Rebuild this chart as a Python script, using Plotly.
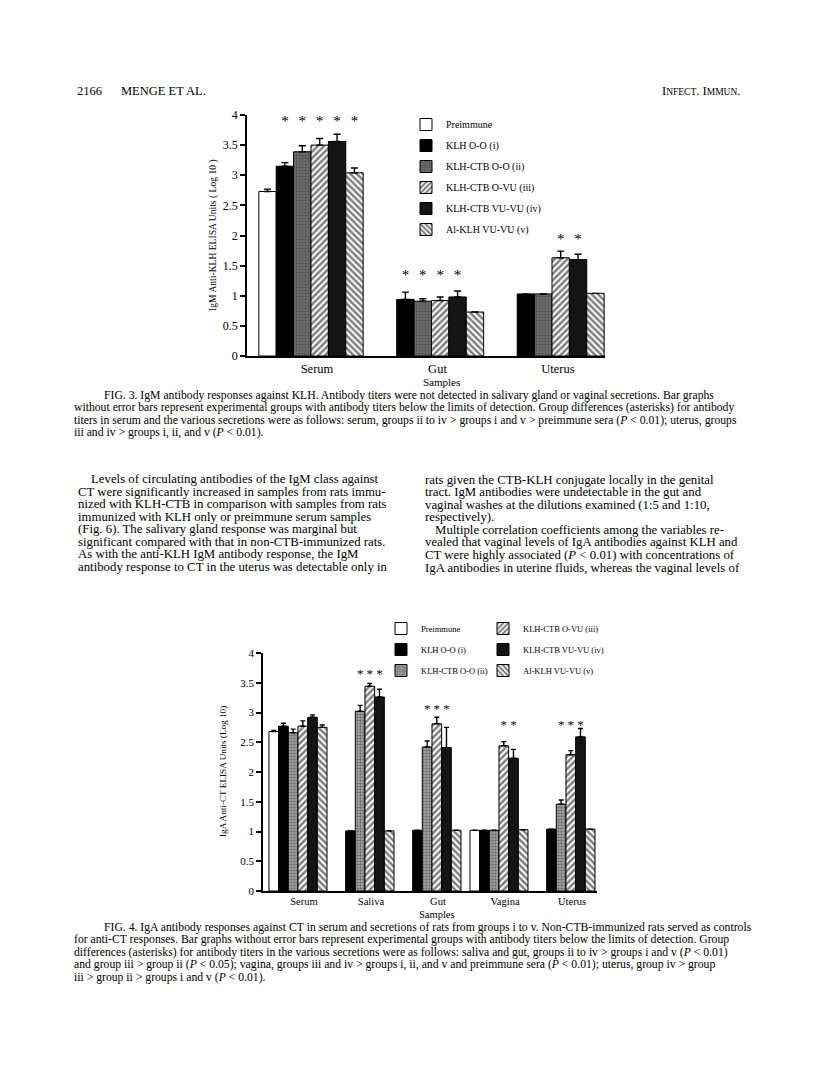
import plotly.graph_objects as go

FONT = "Liberation Serif, Times New Roman, serif"
W, H = 816, 1080
OFF = 8  # the page body margin shifts the figure; compensate so positions match the scan

SERIES = ["Preimmune", "KLH O-O (i)", "KLH-CTB O-O (ii)",
          "KLH-CTB O-VU (iii)", "KLH-CTB VU-VU (iv)", "Al-KLH VU-VU (v)"]

# ---------------- Fig. 3 data (IgM anti-KLH) ----------------
F3_SAMPLES = ["Serum", "Gut", "Uterus"]
F3_PRE = [2.73, None, None]
F3_I = [3.15, 0.94, 1.03]
F3_II = [3.39, 0.91, 1.03]
F3_III = [3.50, 0.92, 1.63]
F3_IV = [3.56, 0.98, 1.60]
F3_V = [3.04, 0.73, 1.04]
F3_PRE_ERR = [0.04, 0, 0]
F3_I_ERR = [0.06, 0.12, 0]
F3_II_ERR = [0.10, 0.04, 0]
F3_III_ERR = [0.11, 0.06, 0.11]
F3_IV_ERR = [0.12, 0.10, 0.09]
F3_V_ERR = [0.08, 0, 0]
F3_STAR_LEVEL = [3.93, 1.38, 1.98]
F3_STARRED = [[1, 2, 3, 4, 5], [1, 2, 3, 4], [3, 4]]

# ---------------- Fig. 4 data (IgA anti-CT) ----------------
F4_SAMPLES = ["Serum", "Saliva", "Gut", "Vagina", "Uterus"]
F4_PRE = [2.68, None, None, 1.02, None]
F4_I = [2.77, 1.01, 1.02, 1.02, 1.04]
F4_II = [2.66, 3.02, 2.42, 1.02, 1.46]
F4_III = [2.77, 3.44, 2.81, 2.44, 2.29]
F4_IV = [2.92, 3.26, 2.41, 2.23, 2.59]
F4_V = [2.75, 1.01, 1.02, 1.03, 1.04]
F4_PRE_ERR = [0.02, 0, 0, 0, 0]
F4_I_ERR = [0.05, 0, 0, 0, 0]
F4_II_ERR = [0.06, 0.10, 0.10, 0, 0.07]
F4_III_ERR = [0.09, 0.05, 0.11, 0.07, 0.07]
F4_IV_ERR = [0.04, 0.13, 0.34, 0.15, 0.14]
F4_V_ERR = [0.04, 0, 0, 0, 0]
F4_STAR_LEVEL = [None, 3.68, 3.09, 2.83, 2.83]
F4_STARRED = [[], [2, 3, 4], [2, 3, 4], [3, 4], [2, 3, 4]]

# ---------------- page text ----------------
CAP3 = [
    "FIG. 3. IgM antibody responses against KLH. Antibody titers were not detected in salivary gland or vaginal secretions. Bar graphs",
    "without error bars represent experimental groups with antibody titers below the limits of detection. Group differences (asterisks) for antibody",
    "titers in serum and the various secretions were as follows: serum, groups ii to iv &gt; groups i and v &gt; preimmune sera (<i>P</i> &lt; 0.01); uterus, groups",
    "iii and iv &gt; groups i, ii, and v (<i>P</i> &lt; 0.01).",
]
CAP4 = [
    "FIG. 4. IgA antibody responses against CT in serum and secretions of rats from groups i to v. Non-CTB-immunized rats served as controls",
    "for anti-CT responses. Bar graphs without error bars represent experimental groups with antibody titers below the limits of detection. Group",
    "differences (asterisks) for antibody titers in the various secretions were as follows: saliva and gut, groups ii to iv &gt; groups i and v (<i>P</i> &lt; 0.01)",
    "and group iii &gt; group ii (<i>P</i> &lt; 0.05); vagina, groups iii and iv &gt; groups i, ii, and v and preimmune sera (<i>P</i> &lt; 0.01); uterus, group iv &gt; group",
    "iii &gt; group ii &gt; groups i and v (<i>P</i> &lt; 0.01).",
]
BODY_LEFT = [
    "Levels of circulating antibodies of the IgM class against",
    "CT were significantly increased in samples from rats immu-",
    "nized with KLH-CTB in comparison with samples from rats",
    "immunized with KLH only or preimmune serum samples",
    "(Fig. 6). The salivary gland response was marginal but",
    "significant compared with that in non-CTB-immunized rats.",
    "As with the anti-KLH IgM antibody response, the IgM",
    "antibody response to CT in the uterus was detectable only in",
]
BODY_RIGHT = [
    "rats given the CTB-KLH conjugate locally in the genital",
    "tract. IgM antibodies were undetectable in the gut and",
    "vaginal washes at the dilutions examined (1:5 and 1:10,",
    "respectively).",
    "Multiple correlation coefficients among the variables re-",
    "vealed that vaginal levels of IgA antibodies against KLH and",
    "CT were highly associated (<i>P</i> &lt; 0.01) with concentrations of",
    "IgA antibodies in uterine fluids, whereas the vaginal levels of",
]


def px_x(p):
    return (p - OFF) / W


def px_y(p):
    return 1 - (p - OFF) / H


def styles(grey):
    return [
        dict(color="white"),
        dict(color="black"),
        dict(color=grey, pattern=dict(shape=".", fgcolor="#2a2a2a", bgcolor=grey,
                                      size=3, solidity=0.4)),
        dict(color="white", pattern=dict(shape="/", fgcolor="black", bgcolor="white",
                                         size=4.5, solidity=0.55)),
        dict(color="#141414"),
        dict(color="white", pattern=dict(shape="\\", fgcolor="black", bgcolor="white",
                                         size=4.5, solidity=0.55)),
    ]


fig = go.Figure()


def add_chart(xa, ya, cats, vals, errs, star_level, starred, legends, style_list,
              errw, px_per_unit, star_size, star_drop, tag):
    # invisible bars that carry the significance asterisks
    for k in range(6):
        sy = [(lvl - star_drop / px_per_unit) if (lvl is not None and k in starred[j]) else None
              for j, lvl in enumerate(star_level)]
        fig.add_trace(go.Bar(
            x=cats, y=sy, xaxis=xa, yaxis=ya, offsetgroup=str(k),
            marker=dict(color="rgba(0,0,0,0)", line=dict(width=0)),
            text=["*" if v is not None else "" for v in sy],
            textposition="outside", constraintext="none", cliponaxis=False,
            textfont=dict(family=FONT, size=star_size, color="black"),
            showlegend=False, hoverinfo="skip"))
    for k in range(6):
        fig.add_trace(go.Bar(
            name=SERIES[k], x=cats, y=vals[k], xaxis=xa, yaxis=ya,
            offsetgroup=str(k), legend=legends[k], legendgroup=tag + str(k),
            marker=dict(**style_list[k], line=dict(color="black", width=1)),
            error_y=dict(type="data", array=errs[k], arrayminus=[0] * len(cats),
                         symmetric=False, color="black", thickness=1.4, width=errw)))


add_chart("x", "y", F3_SAMPLES,
          [F3_PRE, F3_I, F3_II, F3_III, F3_IV, F3_V],
          [F3_PRE_ERR, F3_I_ERR, F3_II_ERR, F3_III_ERR, F3_IV_ERR, F3_V_ERR],
          F3_STAR_LEVEL, F3_STARRED, ["legend"] * 6, styles("#6f6f6f"),
          3.5, 60.25, 15, 13, "f3")
add_chart("x2", "y2", F4_SAMPLES,
          [F4_PRE, F4_I, F4_II, F4_III, F4_IV, F4_V],
          [F4_PRE_ERR, F4_I_ERR, F4_II_ERR, F4_III_ERR, F4_IV_ERR, F4_V_ERR],
          F4_STAR_LEVEL, F4_STARRED, ["legend2"] * 3 + ["legend3"] * 3, styles("#a0a0a0"),
          2.5, 59.5, 13, 12, "f4")

axis_common = dict(showline=True, linecolor="black", linewidth=1.5, showgrid=False,
                   zeroline=False, tickcolor="black", automargin=False)

fig.update_layout(
    width=W, height=H, margin=dict(l=0, r=0, t=0, b=0),
    paper_bgcolor="white", plot_bgcolor="white",
    barmode="group", bargap=0.134, bargroupgap=0,
    font=dict(family=FONT, color="black"),
    showlegend=True,
    xaxis=dict(domain=[px_x(247), px_x(605)], range=[-0.531, 2.44], type="category",
               anchor="y", ticks="", tickfont=dict(size=12.5), ticklabelshift=6,
               **axis_common),
    yaxis=dict(domain=[px_y(356), px_y(115)], range=[0, 4], dtick=0.5, anchor="x",
               ticks="outside", ticklen=5, tickwidth=1.5, tickfont=dict(size=12),
               **axis_common),
    xaxis2=dict(domain=[px_x(263), px_x(597)], range=[-0.522, 4.463], type="category",
                anchor="y2", ticks="", tickfont=dict(size=10.5), ticklabelshift=6,
                **axis_common),
    yaxis2=dict(domain=[px_y(891), px_y(653)], range=[0, 4], dtick=0.5, anchor="x2",
                ticks="outside", ticklen=5, tickwidth=1.5, tickfont=dict(size=11),
                **axis_common),
    legend=dict(x=px_x(406), y=px_y(110), xanchor="left", yanchor="top",
                bgcolor="rgba(0,0,0,0)", font=dict(size=10), itemwidth=30,
                traceorder="grouped", tracegroupgap=2),
    legend2=dict(x=px_x(381), y=px_y(614), xanchor="left", yanchor="top",
                 bgcolor="rgba(0,0,0,0)", font=dict(size=8.5), itemwidth=30,
                 traceorder="grouped", tracegroupgap=2),
    legend3=dict(x=px_x(483), y=px_y(614), xanchor="left", yanchor="top",
                 bgcolor="rgba(0,0,0,0)", font=dict(size=8.5), itemwidth=30,
                 traceorder="grouped", tracegroupgap=2),
)

annotations = []


def ann(text, x, y, size, xanchor="left", angle=0):
    annotations.append(dict(text=text, x=px_x(x), y=px_y(y), xref="paper", yref="paper",
                            xanchor=xanchor, yanchor="middle", showarrow=False,
                            textangle=angle, font=dict(family=FONT, size=size, color="black")))


# header
ann("2166", 75, 91, 12.5)
ann("MENGE ET AL.", 119, 91, 12.5)
ann("I<span style='font-size:9.5px'>NFECT</span>. I<span style='font-size:9.5px'>MMUN</span>.",
    742, 91, 12.5, xanchor="right")

# axis titles
ann("IgM Anti-KLH ELISA Units ( Log 10 )", 213, 235, 9.6, xanchor="center", angle=-90)
ann("Samples", 441, 381.5, 11, xanchor="center")
ann("IgA Anti-CT ELISA Units (Log 10)", 223, 772, 9.2, xanchor="center", angle=-90)
ann("Samples", 437, 914.5, 10.5, xanchor="center")

# captions
for i, line in enumerate(CAP3):
    ann(line, 102 if i == 0 else 72, 395.5 + 12.4 * i, 11.7)
for i, line in enumerate(CAP4):
    ann(line, 102 if i == 0 else 72, 927.5 + 12.4 * i, 11.7)

# body text
for i, line in enumerate(BODY_LEFT):
    ann(line, 89 if i == 0 else 76, 479 + 12.5 * i, 12.8)
for i, line in enumerate(BODY_RIGHT):
    ann(line, 433 if i == 4 else 423, 480 + 12.5 * i, 12.8)

fig.update_layout(annotations=annotations)

fig.write_html("out.html")
